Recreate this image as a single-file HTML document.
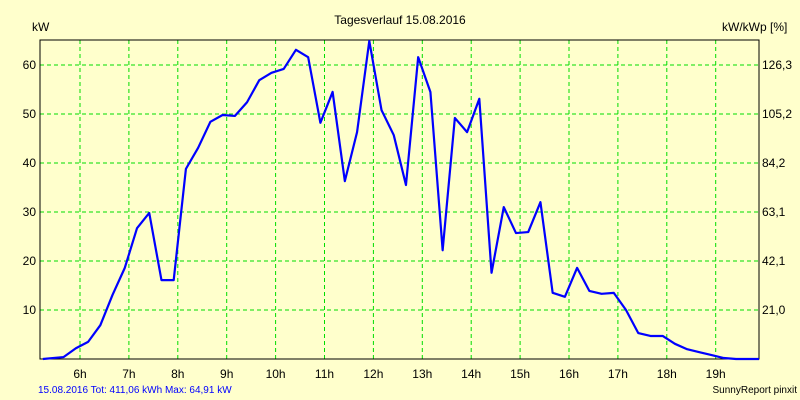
<!DOCTYPE html>
<html><head><meta charset="utf-8"><style>
body{margin:0;background:#ffffcc}
svg{display:block;font-family:"Liberation Sans",sans-serif}
</style></head><body>
<svg id="c" width="800" height="400">
<rect width="800" height="400" fill="#ffffcc"/>
<text x="400" y="24" font-size="12" text-anchor="middle">Tagesverlauf 15.08.2016</text>
<text x="32" y="31" font-size="12">kW</text>
<text x="722" y="31" font-size="12">kW/kWp [%]</text>
<text x="38" y="393" font-size="10" fill="#0000ff">15.08.2016 Tot: 411,06 kWh Max: 64,91 kW</text>
<text x="797" y="393" font-size="10" text-anchor="end">SunnyReport pinxit</text>
<g id="grid"></g><g id="axes"></g><g id="series"></g>
</svg>
<script>
const hourTicks=[6,7,8,9,10,11,12,13,14,15,16,17,18,19];
const kwTicks=[10,20,30,40,50,60];
const pctLabels=["21,0","42,1","63,1","84,2","105,2","126,3"];
const times=[5.2,5.625,5.875,6.125,6.375,6.625,6.875,7.125,7.375,7.625,7.875,8.125,8.375,8.625,8.875,9.125,9.375,9.625,9.875,10.125,10.375,10.625,10.875,11.125,11.375,11.625,11.875,12.125,12.375,12.625,12.875,13.125,13.375,13.625,13.875,14.125,14.375,14.625,14.875,15.125,15.375,15.625,15.875,16.125,16.375,16.625,16.875,17.125,17.375,17.625,17.875,18.125,18.375,18.625,18.875,19.125,19.375,19.85];
const power=[0,0.4,2.2,3.5,6.9,13.1,18.6,26.7,29.8,16.1,16.1,38.8,43.1,48.4,49.8,49.6,52.4,56.9,58.4,59.2,63.1,61.6,48.2,54.5,36.3,46.3,64.9,50.8,45.7,35.5,61.6,54.5,22.2,49.2,46.3,53.1,17.6,31,25.7,25.9,32,13.5,12.7,18.6,13.9,13.3,13.5,10,5.3,4.7,4.7,3.1,2,1.4,0.8,0.2,0,0];
const L=40,R=759,T=40,B=359;
const xs=h=>80+(h-6)*48.9;
const ys=v=>B-v*4.9;
const NS="http://www.w3.org/2000/svg";
function mk(tag,at,parent){const e=document.createElementNS(NS,tag);for(const k in at)e.setAttribute(k,at[k]);document.getElementById(parent).appendChild(e);return e;}
hourTicks.forEach(h=>{
 const l=mk('line',{x1:xs(h),x2:xs(h),y1:T,y2:B,stroke:'#00dd00','stroke-dasharray':'4,3'},'grid');
 
 
 const t=mk('text',{x:xs(h),y:B+19,'font-size':12,'text-anchor':'middle'},'axes');t.textContent=h+'h';
 
 
});
kwTicks.forEach((v,i)=>{
 const l=mk('line',{x1:L,x2:R,y1:ys(v),y2:ys(v),stroke:'#00dd00','stroke-dasharray':'4,3'},'grid');
 
 
 const t=mk('text',{x:L-4,y:ys(v)+4,'font-size':12,'text-anchor':'end'},'axes');t.textContent=v;
 
 
 const t2=mk('text',{x:R+3,y:ys(v)+4,'font-size':12},'axes');t2.textContent=pctLabels[i];
 
 
});
const fr=mk('path',{d:`M${L},${T}H${R}V${B}H${L}Z`,fill:'none',stroke:'#000'},'axes');


const ln=mk('polyline',{points:times.map((t,i)=>Math.min(R,xs(t)+2)+','+ys(power[i])).join(' '),fill:'none',stroke:'#0000ff','stroke-width':2.2,'stroke-linejoin':'round'},'series');


</script>
</body></html>
